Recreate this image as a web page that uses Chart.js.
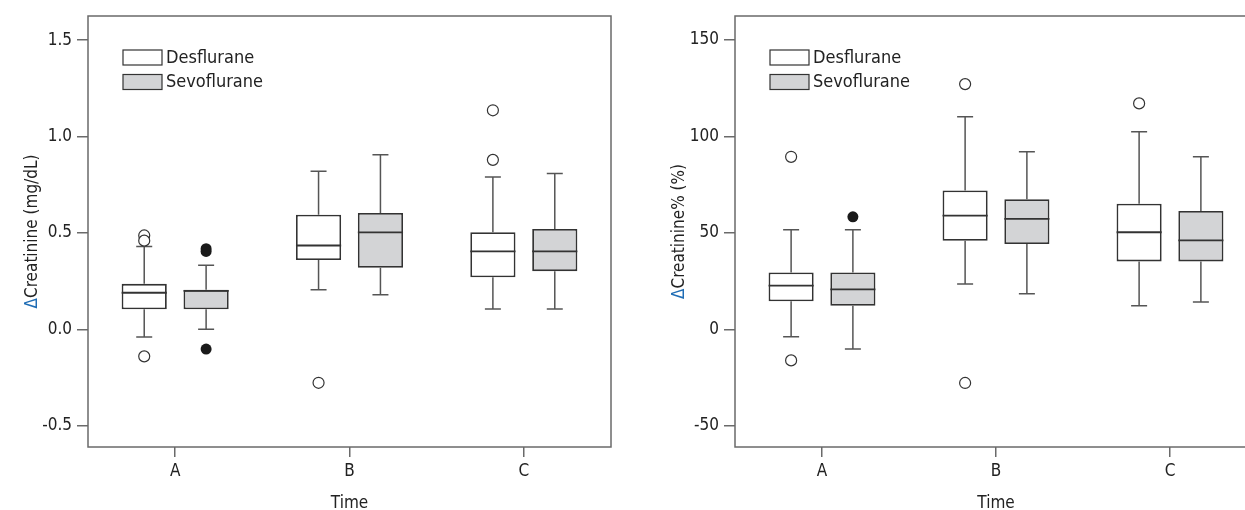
<!DOCTYPE html>
<html>
<head>
<meta charset="utf-8">
<script src="https://cdn.jsdelivr.net/npm/chart.js@4.4.1/dist/chart.umd.min.js"></script>
<style>
  html, body { margin: 0; padding: 0; background: #fff; overflow: hidden; }
  #wrap { position: relative; width: 1245px; height: 510px; overflow: hidden; }
  canvas { position: absolute; top: 0; }
</style>
</head>
<body>
<div id="wrap">
  <canvas id="chart-mg" width="640" height="510" style="left:0"></canvas>
  <canvas id="chart-pct" width="640" height="510" style="left:640px"></canvas>
</div>
<script>
const categories = ['A', 'B', 'C'];
const seriesNames = ['Desflurane', 'Sevoflurane'];

// left panel: change in creatinine (mg/dL)
const mgTicks = [-0.5, 0.0, 0.5, 1.0, 1.5];
const desMgMin = [-0.04, 0.205, 0.105];
const desMgQ1 = [0.104, 0.36, 0.27];
const desMgMed = [0.19, 0.435, 0.404];
const desMgQ3 = [0.236, 0.594, 0.504];
const desMgMax = [0.43, 0.82, 0.79];
const desMgOut = [[0.487, 0.46, -0.14], [-0.277], [1.136, 0.879]];
const sevMgMin = [0.0, 0.179, 0.105];
const sevMgQ1 = [0.104, 0.319, 0.302];
const sevMgMed = [0.2, 0.503, 0.404];
const sevMgQ3 = [0.205, 0.604, 0.521];
const sevMgMax = [0.333, 0.905, 0.808];
const sevMgOut = [[0.418, 0.404, -0.102], [], []];

// right panel: change in creatinine (%)
const pctTicks = [-50, 0, 50, 100, 150];
const desPctMin = [-3.8, 23.5, 12.2];
const desPctQ1 = [14.5, 45.9, 35.2];
const desPctMed = [22.6, 58.9, 50.3];
const desPctQ3 = [29.5, 72.0, 65.1];
const desPctMax = [51.6, 110.2, 102.4];
const desPctOut = [[89.4, -16.1], [127.1, -27.8], [117.1]];
const sevPctMin = [-10.2, 18.4, 14.1];
const sevPctQ1 = [12.2, 44.2, 35.2];
const sevPctMed = [20.7, 57.2, 46.1];
const sevPctQ3 = [29.5, 67.4, 61.3];
const sevPctMax = [51.6, 92.0, 89.4];
const sevPctOut = [[58.3], [], []];

const FONT = "'DejaVu Sans Condensed', 'Liberation Sans Narrow', sans-serif";
const INK = '#222';
const LINE = '#6a6a6a';
const BOX_EDGE = '#333';
const GREY_FILL = '#d3d4d6';
const DELTA_BLUE = '#1f6db5';

// whiskers, medians, outliers, frame, legend and the two-colour y title
const boxPlugin = {
    id: 'boxExtras',
    beforeDatasetsDraw(chart) {
        const ctx = chart.ctx;
        const a = chart.chartArea;
        ctx.save();
        ctx.strokeStyle = LINE;
        ctx.lineWidth = 1.5;
        ctx.strokeRect(a.left, a.top, a.right - a.left, a.bottom - a.top);
        ctx.restore();
    },
    afterDatasetsDraw(chart) {
        const ctx = chart.ctx;
        const y = chart.scales.y;
        const extra = chart.options.plugins.boxExtras;
        chart.data.datasets.forEach((ds, i) => {
            const meta = chart.getDatasetMeta(i);
            const st = extra.stats[i];
            meta.data.forEach((bar, j) => {
                const x = bar.x;
                const half = bar.width / 2;
                const yMin = y.getPixelForValue(st.min[j]);
                const yMax = y.getPixelForValue(st.max[j]);
                const yQ1 = y.getPixelForValue(st.q1[j]);
                const yQ3 = y.getPixelForValue(st.q3[j]);
                const yMed = y.getPixelForValue(st.med[j]);
                ctx.save();
                ctx.strokeStyle = '#555';
                ctx.lineWidth = 1.5;
                ctx.beginPath();
                ctx.moveTo(x, yQ3); ctx.lineTo(x, yMax);
                ctx.moveTo(x - 8, yMax); ctx.lineTo(x + 8, yMax);
                ctx.moveTo(x, yQ1); ctx.lineTo(x, yMin);
                ctx.moveTo(x - 8, yMin); ctx.lineTo(x + 8, yMin);
                ctx.stroke();
                ctx.strokeStyle = BOX_EDGE;
                ctx.lineWidth = 1.8;
                ctx.beginPath();
                ctx.moveTo(x - half, yMed); ctx.lineTo(x + half, yMed);
                ctx.stroke();
                st.out[j].forEach(v => {
                    ctx.beginPath();
                    ctx.arc(x, y.getPixelForValue(v), 5.5, 0, Math.PI * 2);
                    if (st.filled) {
                        ctx.fillStyle = '#1a1a1a';
                        ctx.fill();
                    } else {
                        ctx.fillStyle = '#fff';
                        ctx.fill();
                        ctx.strokeStyle = '#333';
                        ctx.lineWidth = 1.2;
                        ctx.stroke();
                    }
                });
                ctx.restore();
            });
        });

        // legend inside the plot
        const a = chart.chartArea;
        ctx.save();
        ctx.font = '18px ' + FONT;
        ctx.textBaseline = 'middle';
        ctx.textAlign = 'left';
        chart.data.datasets.forEach((ds, i) => {
            const bx = a.left + 35;
            const by = a.top + 34 + i * 24.5;
            ctx.fillStyle = ds.backgroundColor;
            ctx.fillRect(bx, by, 39, 15);
            ctx.strokeStyle = BOX_EDGE;
            ctx.lineWidth = 1.2;
            ctx.strokeRect(bx, by, 39, 15);
            ctx.fillStyle = INK;
            ctx.fillText(ds.label, bx + 43, by + 8);
        });
        ctx.restore();

        // y axis title with a blue delta
        const rest = extra.yTitle;
        ctx.save();
        ctx.font = '17px ' + FONT;
        const w1 = ctx.measureText('\u0394').width;
        const w2 = ctx.measureText(rest).width;
        ctx.translate(extra.yTitleX, (a.top + a.bottom) / 2);
        ctx.rotate(-Math.PI / 2);
        ctx.textBaseline = 'middle';
        ctx.textAlign = 'left';
        const start = -(w1 + w2) / 2;
        ctx.fillStyle = DELTA_BLUE;
        ctx.fillText('\u0394', start, 0);
        ctx.fillStyle = INK;
        ctx.fillText(rest, start + w1, 0);
        ctx.restore();
    }
};

function makeChart(id, o) {
    const ctx = document.getElementById(id).getContext('2d');
    return new Chart(ctx, {
        type: 'bar',
        data: {
            labels: categories,
            datasets: [{
                label: seriesNames[0],
                data: o.q1[0].map((v, j) => [v, o.q3[0][j]]),
                backgroundColor: '#ffffff',
                borderColor: BOX_EDGE,
                borderWidth: 1.8,
                borderSkipped: false,
                categoryPercentage: 0.71,
                barPercentage: 0.73
            }, {
                label: seriesNames[1],
                data: o.q1[1].map((v, j) => [v, o.q3[1][j]]),
                backgroundColor: GREY_FILL,
                borderColor: BOX_EDGE,
                borderWidth: 1.8,
                borderSkipped: false,
                categoryPercentage: 0.71,
                barPercentage: 0.73
            }]
        },
        options: {
            responsive: false,
            animation: false,
            events: [],
            layout: { padding: { top: 16, right: o.padRight, left: 0, bottom: 0 } },
            plugins: {
                legend: { display: false },
                tooltip: { enabled: false },
                boxExtras: {
                    stats: [
                        { min: o.min[0], q1: o.q1[0], med: o.med[0], q3: o.q3[0], max: o.max[0], out: o.out[0], filled: false },
                        { min: o.min[1], q1: o.q1[1], med: o.med[1], q3: o.q3[1], max: o.max[1], out: o.out[1], filled: true }
                    ],
                    yTitle: o.yTitle,
                    yTitleX: o.yTitleX
                }
            },
            scales: {
                x: {
                    offset: true,
                    border: { display: false },
                    grid: { drawOnChartArea: false, drawTicks: true, tickLength: 10, tickColor: LINE, lineWidth: 1.5, offset: false },
                    ticks: { color: INK, font: { family: FONT, size: 17 }, padding: 4, maxRotation: 0 },
                    title: { display: true, text: 'Time', color: INK, font: { family: FONT, size: 17 }, padding: { top: 0, bottom: -4 } },
                    afterFit(scale) { scale.height = 63; }
                },
                y: {
                    min: o.yMin,
                    max: o.yMax,
                    border: { display: false },
                    grid: { drawOnChartArea: false, drawTicks: true, tickLength: 11, tickColor: LINE, lineWidth: 1.5 },
                    ticks: {
                        color: INK,
                        font: { family: FONT, size: 17 },
                        padding: 5,
                        callback: o.fmt
                    },
                    afterBuildTicks(scale) { scale.ticks = o.ticks.map(v => ({ value: v })); },
                    afterFit(scale) { scale.width = o.yWidth; }
                }
            }
        },
        plugins: [boxPlugin]
    });
}

makeChart('chart-mg', {
    min: [desMgMin, sevMgMin], q1: [desMgQ1, sevMgQ1], med: [desMgMed, sevMgMed],
    q3: [desMgQ3, sevMgQ3], max: [desMgMax, sevMgMax], out: [desMgOut, sevMgOut],
    ticks: mgTicks, yMin: -0.61, yMax: 1.625, fmt: v => v.toFixed(1),
    yWidth: 88, padRight: 29, yTitle: 'Creatinine (mg/dL)', yTitleX: 33
});

makeChart('chart-pct', {
    min: [desPctMin, sevPctMin], q1: [desPctQ1, sevPctQ1], med: [desPctMed, sevPctMed],
    q3: [desPctQ3, sevPctQ3], max: [desPctMax, sevPctMax], out: [desPctOut, sevPctOut],
    ticks: pctTicks, yMin: -61, yMax: 162.4, fmt: v => String(v),
    yWidth: 95, padRight: 23, yTitle: 'Creatinine% (%)', yTitleX: 40
});
</script>
</body>
</html>
